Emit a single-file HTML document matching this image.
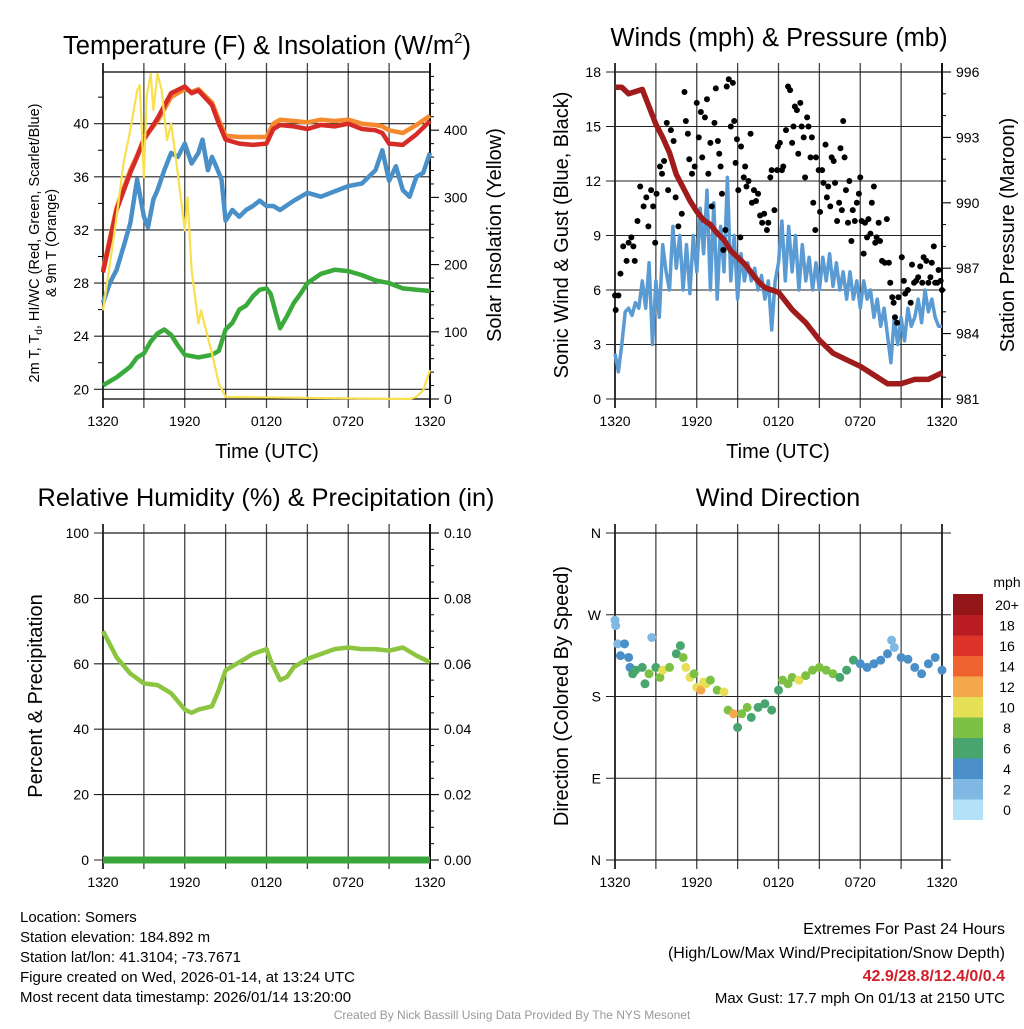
<!DOCTYPE html>
<html><head><meta charset="utf-8">
<style>
html,body{margin:0;padding:0;background:#fff;}
svg text{font-family:"Liberation Sans",sans-serif;fill:#000;}
</style></head>
<body>
<svg id="chart" xmlns="http://www.w3.org/2000/svg" width="1024" height="1024" viewBox="0 0 1024 1024"></svg>
<script>
// ---------- DATA ----------
const timeTicks = ["1320","1920","0120","0720","1320"];
const tempHours = [0,1,2,2.5,3,4,5,6,6.5,7,8,8.5,9,10,11,12,12.5,13,14,15,16,17,18,19,20,20.5,21,22,23,24];
const temp2m    = [28.8,33.5,36.3,37.5,38.8,40.4,42.3,42.8,42.3,42.5,41.4,40,38.8,38.5,38.4,38.5,39.6,39.9,39.8,39.6,39.9,39.8,40,39.6,39.5,39.3,38.5,38.4,39.2,40.2];
const temp9m    = [29.0,33.7,36.5,37.6,38.9,40.2,42.0,42.6,42.4,42.6,41.6,40.3,39.1,39.0,39.0,39.0,40.0,40.3,40.2,40.1,40.3,40.2,40.3,40.0,39.9,39.8,39.5,39.3,39.9,40.6];
const blueHours = [0,0.5,1,1.5,2,2.5,3,3.3,3.7,4,4.5,5,5.5,6,6.5,7,7.3,7.7,8,8.3,8.7,9,9.5,10,10.5,11,11.5,12,12.5,13,14,15,16,17,18,19,20,20.5,21,21.5,22,22.5,23,23.5,24];
const hiwc      = [26.5,28,29,30.7,32.5,35.8,33,32.2,34.3,35,36.5,37.8,37.5,38.5,37,37.8,38.8,36.5,37.5,36.8,35.8,32.7,33.5,33,33.5,33.8,34.2,33.8,33.8,33.5,34.2,34.8,34.5,34.9,35.3,35.5,36.5,38,35.7,36.8,35,34.5,36,36.3,37.8];
const tdHours   = [0,1,2,2.5,3,3.5,4,4.5,5,5.5,6,7,8,8.5,9,9.5,10,10.5,11,11.5,12,12.3,12.7,13,13.5,14,14.5,15,16,17,18,19,20,21,22,23,24];
const dewpoint  = [20.3,20.9,21.7,22.4,22.7,23.6,24.2,24.5,24.1,23.3,22.6,22.4,22.6,22.9,24.5,25,26,26.3,27,27.5,27.6,27.2,25.7,24.6,25.5,26.5,27.2,28,28.7,29,28.9,28.6,28.2,28,27.6,27.5,27.4];
const solarHours = [0,0.5,1,1.5,2,2.5,2.7,3,3.2,3.5,3.7,4,4.3,4.7,5,5.5,6,6.2,6.5,7,7.2,7.5,8,8.5,9,22.5,23,23.5,24];
const solar      = [132,200,271,350,400,459,467,330,450,484,430,484,460,385,410,335,251,300,192,112,132,107,68,23,3,0,3,13,43];
const windHours = Array.from({length:97},(_,i)=>i*0.25);
const windSpeed = [2.5,1.5,3.0,4.8, 5.0,4.6,5.3,5.0, 6.5,5.0,7.5,3.0, 6.5,4.5,8.5,7.0, 6.0,9.5,7.2,9.0, 6.0,8.5,5.8,9.0, 7.0,10.5,8.0,11.5, 6.0,10.8,5.5,9.5, 7.0,12.2,6.5,9.0, 5.5,8.0,6.5,7.5, 6.5,7.2,6.0,6.8, 5.5,6.5,3.8,6.5, 7.5,9.8,6.5,9.5, 7.0,9.0,6.0,8.5, 6.5,7.8,6.0,7.5, 6.0,7.8,6.5,8.0, 6.2,7.5,6.0,7.0, 5.5,7.0,5.5,6.5, 5.0,6.5,5.5,6.0, 4.5,5.5,4.0,5.0, 3.5,2.0,4.5,3.0, 4.5,3.2,5.0,4.0, 4.5,5.5,4.2,6.0, 4.8,5.5,4.5,4.0, 4.0];
const gustHours = [0,0.05,0.25,0.4,0.6,0.85,1,1.2,1.35,1.45,1.65,1.85,2.1,2.3,2.45,2.65,2.8,2.95,3.05,3.3,3.45,3.6,3.8,3.9,4.1,4.3,4.45,4.65,4.9,5.1,5.2,5.35,5.45,5.65,5.85,6,6.15,6.3,6.4,6.6,6.75,6.85,7,7.1,7.3,7.4,7.55,7.65,7.75,7.85,7.95,8.1,8.2,8.35,8.5,8.65,8.75,8.85,8.95,9.05,9.2,9.25,9.45,9.55,9.65,9.8,9.95,10.05,10.2,10.35,10.5,10.65,10.8,10.95,11.15,11.25,11.4,11.5,11.7,11.9,11.95,12.1,12.25,12.35,12.55,12.7,12.85,13,13.1,13.2,13.35,13.45,13.6,13.7,13.85,13.95,14.1,14.2,14.35,14.45,14.55,14.7,14.75,14.95,15.05,15.2,15.3,15.45,15.55,15.65,15.8,15.9,16.05,16.15,16.3,16.45,16.55,16.65,16.75,16.85,16.95,17.1,17.2,17.35,17.45,17.6,17.75,17.9,18,18.1,18.25,18.35,18.5,18.6,18.75,18.85,19,19.1,19.2,19.35,19.45,19.6,19.8,19.95,20.1,20.2,20.35,20.45,20.55,20.7,20.8,21.05,21.2,21.3,21.5,21.7,21.8,21.95,22.1,22.25,22.4,22.55,22.65,22.85,23,23.15,23.25,23.4,23.5,23.65,23.75,23.9,24];
const gustSpeed = [5.7,4.9,5.7,6.9,8.4,7.6,8.6,8.9,8.4,7.6,9.8,11.7,10.6,11.1,9.5,11.5,10.6,8.6,11.3,12.8,12.4,13.1,15.2,11.5,14.8,14.2,11.1,9.5,10.2,16.9,15.3,14.6,13.2,12.4,12.8,16.3,14.4,15.8,13.3,15.5,16.5,12.4,14.1,10.6,15.2,17.1,14.2,13.5,12.8,11.3,8.2,9.3,17.2,17.6,15.0,17.4,15.3,13.0,14.3,11.5,8.9,13.9,12.2,12.8,11.7,12.0,14.6,10.8,11.5,10.9,11.3,10.1,9.7,10.2,9.3,9.7,12.2,12.6,10.4,12.6,13.9,14.1,12.6,12.8,14.8,17.2,17.0,14.1,15.0,16.1,15.9,13.5,16.3,15.0,14.4,12.2,15.5,15.0,13.3,14.4,10.8,9.3,13.3,12.6,10.3,12.6,11.9,14.0,11.1,11.7,10.6,13.3,13.1,11.9,9.8,10.8,13.8,10.4,15.3,13.3,11.5,9.7,12.0,8.7,10.4,9.8,10.8,11.3,12.2,9.8,8.0,9.7,8.9,9.9,9.1,10.8,11.7,8.6,8.9,9.7,8.7,7.6,7.5,9.9,7.5,6.4,5.6,5.3,4.5,4.2,5.6,7.8,6.5,5.8,6.0,5.3,7.4,6.4,6.5,6.7,7.3,6.4,7.8,7.6,6.4,6.7,7.5,8.4,6.4,6.4,7.1,6.5,6.0];
const presHours = [0,0.5,1,1.5,2,2.5,3,3.5,4,4.5,5,5.5,6,6.5,7,7.5,8,8.5,9,9.5,10,10.5,11,12,12.5,13,14,15,16,17,18,19,20,21,22,23,24];
const pressure  = [995.3,995.3,995.0,995.1,995.2,994.4,993.6,993.0,992.3,991.3,990.7,990.1,989.6,989.2,989.0,988.6,988.3,987.8,987.5,987.2,986.8,986.4,986.1,985.9,985.5,985.1,984.5,983.7,983.1,982.8,982.5,982.1,981.7,981.7,981.9,981.9,982.2];
const rhHours = [0,0.5,1,2,3,4,5,6,6.5,7,8,8.5,9,10,11,12,12.3,13,13.5,14,15,16,17,18,19,20,21,22,23,24];
const rh      = [70,66,62,57,54,53.5,51,46,45,46,47,52,58,60.5,63,64.5,61,55,56,59,61.5,63,64.5,65,64.5,64.5,64,65,62.5,60.5];
const precipHours = [0,24];
const precip      = [0,0];
const dirHours = [0,0.05,0.2,0.4,0.7,1,1.1,1.3,1.5,2,2.2,2.5,2.7,3,3.3,3.5,4,4.5,4.8,5,5.2,5.5,5.8,6,6.3,6.5,6.7,7,7.5,8,8.3,8.7,9,9.3,9.7,10,10.5,11,11.5,12,12.3,12.7,13,13.5,14,14.5,15,15.5,16,16.5,17,17.5,18,18.5,19,19.5,20,20.3,20.5,21,21.5,22,22.5,23,23.5,24];
const dirDeg   = [264,258,238,225,238,223,212,205,209,212,194,205,245,212,201,209,212,227,236,223,212,201,205,190,187,196,194,198,187,185,165,161,146,161,168,157,168,172,165,187,198,194,201,198,203,209,212,209,205,201,209,220,216,212,216,220,227,242,234,223,221,212,205,216,223,209];
const dirSpeed = [3.5,3.8,3.9,4.5,4.2,5,5.3,6.5,7,6.8,7.2,8.5,3,7.5,9.5,10.5,8.5,7,6.5,8.5,10,11,9,10.5,12.5,11,10.2,9,8.5,10.5,9.5,12.5,6.5,8.5,8,7,6.5,6.8,6.2,7,8.5,9,8.8,10.5,9.5,8.2,8.5,8.8,8.5,7.5,6.5,6,5.5,5,4.8,4.5,4.2,3,3.5,4.5,4.2,4.5,4.8,5,5.2,4.8];
const cbarLabels = ["0","2","4","6","8","10","12","14","16","18","20+"];
const cbarColors = ["#b3e1f7","#7fb9e3","#4a8fc7","#47a56d","#7dc144","#e6e056","#f5a84b","#ee6330","#dc3429","#b91d23","#931518"];

// ---------- HELPERS ----------
const NS="http://www.w3.org/2000/svg";
const svg=document.getElementById('chart');
function mk(tag,attrs,parent){const e=document.createElementNS(NS,tag);for(const k in attrs)e.setAttribute(k,attrs[k]);(parent||svg).appendChild(e);return e;}
function txt(x,y,s,size,anchor,parent,rot){const t=mk('text',{x:x,y:y,'font-size':size,'text-anchor':anchor||'middle'},parent);if(rot)t.setAttribute('transform','rotate(-90 '+x+' '+y+')');t.textContent=s;return t;}
function pathFrom(xs,ys,fx,fy){return xs.map((h,i)=>(i?'L':'M')+fx(h).toFixed(1)+','+fy(ys[i]).toFixed(1)).join(' ');}

const L0=103,L1=430,R0=615,R1=942,T0=72,B0=399,T1=533,B1=860;
const xL=h=>L0+h*(L1-L0)/24;
const xR=h=>R0+h*(R1-R0)/24;
const yTemp=v=>389.3-(v-20)*13.28;
const ySolar=v=>399-v*0.672;
const yWind=v=>B0-v*(B0-T0)/18;
const yPres=v=>B0-(v-981)*(B0-T0)/15;
const yRH=v=>B1-v*(B1-T1)/100;
const yPrec=v=>B1-v*(B1-T1)/0.1;
const yDir=d=>B1-d*(B1-T1)/360;

function frame(g,x0,x1,y0,y1){
  for(let k=0;k<=8;k++){const x=x0+k*(x1-x0)/8;
    const l=mk('line',{x1:x,x2:x,y1:y0-9,y2:y1+9,stroke:k%8==0?'#000':'#444','stroke-width':k%8==0?1.6:1.3},g);
    
    }
  mk('line',{x1:x0,x2:x1,y1:y0,y2:y0,stroke:'#000','stroke-width':1.2},g);
  mk('line',{x1:x0,x2:x1,y1:y1,y2:y1,stroke:'#000','stroke-width':1.2},g);
  timeTicks.forEach((s,i)=>{const t=txt(x0+i*(x1-x0)/4,y1+27,s,14,'middle',g);
    
    });
}
function hgrid(g,x0,x1,y,lbl,side){
  const l=mk('line',{x1:x0-9,x2:x1+(side?9:0),y1:y,y2:y,stroke:'#222','stroke-width':1.1},g);
  
  
  if(lbl!==null){const t=txt(x0-14,y+5,lbl,14,'end',g);
    
    }
}
function rtick(g,x1,y,lbl){
  mk('line',{x1:x1,x2:x1+9,y1:y,y2:y,stroke:'#000','stroke-width':1.1},g);
  const t=txt(x1+14,y+5,lbl,14,'start',g);
  
  
}

// ---------- PANEL 1 ----------
const p1=mk('g',{});


let t=txt(267,54,'Temperature (F) & Insolation (W/m',25.5,'middle',p1);
const sup=mk('tspan',{'font-size':15,dy:-11},t);sup.textContent='2';
const cl=mk('tspan',{dy:11},t);cl.textContent=')';


frame(p1,L0,L1,T0,B0);
[20,24,28,32,36,40].forEach(v=>hgrid(p1,L0,L1,yTemp(v),String(v)));
for(let v=22;v<=44;v+=4){mk('line',{x1:L0-5,x2:L0,y1:yTemp(v),y2:yTemp(v),stroke:'#000'},p1);}
for(let v=0;v<=480;v+=20){mk('line',{x1:L1,x2:L1+(v%100?4:0),y1:ySolar(v),y2:ySolar(v),stroke:'#000'},p1);}
[0,100,200,300,400].forEach(v=>rtick(p1,L1,ySolar(v),String(v)));
mk('line',{x1:L1,x2:L1,y1:T0-9,y2:B0+9,stroke:'#000','stroke-width':1.6},p1);
t=txt(39,243,'2m T, T',14.5,'middle',p1,true);
const sub=mk('tspan',{'font-size':10,dy:3},t);sub.textContent='d';
const rest=mk('tspan',{dy:-3},t);rest.textContent=', HI/WC (Red, Green, Scarlet/Blue)';


t=txt(56,243,'& 9m T (Orange)',14.5,'middle',p1,true);


t=txt(501,235,'Solar Insolation (Yellow)',20,'middle',p1,true);


t=txt(267,458,'Time (UTC)',20,'middle',p1);


let s;
s=mk('path',{d:pathFrom(tdHours,dewpoint,xL,yTemp),fill:'none',stroke:'#3aaa3a','stroke-width':4.5,'stroke-linejoin':'round'},p1);


s=mk('path',{d:pathFrom(blueHours,hiwc,xL,yTemp),fill:'none',stroke:'#4a90c8','stroke-width':4.5,'stroke-linejoin':'round'},p1);


s=mk('path',{d:pathFrom(tempHours,temp9m,xL,yTemp),fill:'none',stroke:'#f58a2e','stroke-width':4.5,'stroke-linejoin':'round'},p1);


s=mk('path',{d:pathFrom(tempHours,temp2m,xL,yTemp),fill:'none',stroke:'#d62b26','stroke-width':4.5,'stroke-linejoin':'round'},p1);


s=mk('path',{d:pathFrom(solarHours,solar,xL,ySolar),fill:'none',stroke:'#f9e04e','stroke-width':2.2,'stroke-linejoin':'round'},p1);



// ---------- PANEL 2 ----------
const p2=mk('g',{});


t=txt(779,46,'Winds (mph) & Pressure (mb)',25.5,'middle',p2);


frame(p2,R0,R1,T0,B0);
[0,3,6,9,12,15,18].forEach(v=>hgrid(p2,R0,R1,yWind(v),String(v)));
for(let v=981;v<=996;v+=1){mk('line',{x1:R1,x2:R1+(v%3?4:0),y1:yPres(v),y2:yPres(v),stroke:'#000'},p2);}
[981,984,987,990,993,996].forEach(v=>rtick(p2,R1,yPres(v),String(v)));
mk('line',{x1:R1,x2:R1,y1:T0-9,y2:B0+9,stroke:'#000','stroke-width':1.6},p2);
t=txt(568,235,'Sonic Wind & Gust (Blue, Black)',20,'middle',p2,true);


t=txt(1014,235,'Station Pressure (Maroon)',20,'middle',p2,true);


t=txt(778,458,'Time (UTC)',20,'middle',p2);


s=mk('path',{d:pathFrom(windHours,windSpeed,xR,yWind),fill:'none',stroke:'#5a9bd3','stroke-width':3.5,'stroke-linejoin':'round'},p2);


gustHours.forEach((h,i)=>{const c=mk('circle',{cx:xR(h),cy:yWind(gustSpeed[i]),r:3,fill:'#000'},p2);
  
  });
s=mk('path',{d:pathFrom(presHours,pressure,xR,yPres),fill:'none',stroke:'#a01c1c','stroke-width':5.5,'stroke-linejoin':'round'},p2);



// ---------- PANEL 3 ----------
const p3=mk('g',{});


t=txt(266,506,'Relative Humidity (%) & Precipitation (in)',25.3,'middle',p3);


frame(p3,L0,L1,T1,B1);
[0,20,40,60,80,100].forEach(v=>hgrid(p3,L0,L1,yRH(v),String(v)));
for(let v=0;v<=0.1001;v+=0.005){mk('line',{x1:L1,x2:L1+(Math.round(v*1000)%20?4:0),y1:yPrec(v),y2:yPrec(v),stroke:'#000'},p3);}
[0,0.02,0.04,0.06,0.08,0.1].forEach(v=>rtick(p3,L1,yPrec(v),v.toFixed(2)));
mk('line',{x1:L1,x2:L1,y1:T1-9,y2:B1+9,stroke:'#000','stroke-width':1.6},p3);
t=txt(42,696,'Percent & Precipitation',20,'middle',p3,true);


s=mk('path',{d:pathFrom(rhHours,rh,xL,yRH),fill:'none',stroke:'#8cc540','stroke-width':4.5,'stroke-linejoin':'round'},p3);


s=mk('path',{d:pathFrom(precipHours,precip,xL,yPrec),fill:'none',stroke:'#3aa53a','stroke-width':7},p3);



// ---------- PANEL 4 ----------
const p4=mk('g',{});


t=txt(778,506,'Wind Direction',25.3,'middle',p4);


frame(p4,R0,R1,T1,B1);
[[0,'N'],[90,'E'],[180,'S'],[270,'W'],[360,'N']].forEach(a=>hgrid(p4,R0,R1,yDir(a[0]),a[1],true));
t=txt(568,696,'Direction (Colored By Speed)',20,'middle',p4,true);


function spdColor(v){return cbarColors[Math.min(10,Math.floor(v/2))];}
dirHours.forEach((h,i)=>{const c=mk('circle',{cx:xR(h),cy:yDir(dirDeg[i]),r:4.5,fill:spdColor(dirSpeed[i])},p4);
  
  });
const cb=mk('g',{});


const cbTop=594,cbH=20.5;
cbarColors.forEach((c,i)=>{const r=mk('rect',{x:953,y:cbTop+(10-i)*cbH,width:30,height:cbH+0.5,fill:c},cb);
  
  
  const l=txt(1007,cbTop+(10-i)*cbH+16,cbarLabels[i],14,'middle',cb);
  
  });
t=txt(1007,587,'mph',14,'middle',cb);



// ---------- FOOTER ----------
const info=["Location: Somers","Station elevation: 184.892 m","Station lat/lon: 41.3104; -73.7671","Figure created on Wed, 2026-01-14, at 13:24 UTC","Most recent data timestamp: 2026/01/14 13:20:00"];
info.forEach((s,i)=>{const e=txt(20,922+i*20,s,15,'start');
  
  });
t=txt(1005,934,'Extremes For Past 24 Hours',16,'end');


t=txt(1005,958,'(High/Low/Max Wind/Precipitation/Snow Depth)',16,'end');


t=txt(1005,981,'42.9/28.8/12.4/0/0.4',16,'end');
t.setAttribute('style','fill:#d0202a;font-weight:bold');


t=txt(1005,1003,'Max Gust: 17.7 mph On 01/13 at 2150 UTC',15,'end');


t=txt(512,1019,'Created By Nick Bassill Using Data Provided By The NYS Mesonet',12,'middle');
t.setAttribute('style','fill:#999');


</script>
</body></html>
